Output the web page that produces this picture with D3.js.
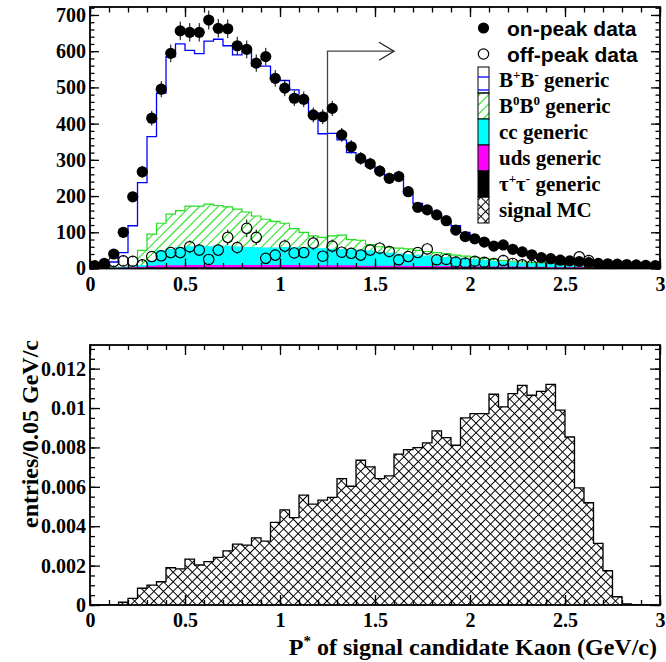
<!DOCTYPE html>
<html><head><meta charset="utf-8">
<script src="https://cdn.jsdelivr.net/npm/d3@7"></script>
<style>
html,body{margin:0;padding:0;background:#fff;}
svg{display:block;}
.lab text{font-family:"Liberation Serif","Times New Roman",serif;font-weight:bold;font-size:20px;fill:#000;}
</style></head><body>
<svg id="c" width="666" height="662"></svg>
<script>
// ---------------- data ----------------
const binWidth = 0.05;
const nBins = 60;
const xTickValues = [0, 0.5, 1, 1.5, 2, 2.5, 3];
const xTickLabels = ["0", "0.5", "1", "1.5", "2", "2.5", "3"];
const yTopTickValues = [0, 100, 200, 300, 400, 500, 600, 700];
const yTopTickLabels = ["0", "100", "200", "300", "400", "500", "600", "700"];
const yBotTickValues = [0, 0.002, 0.004, 0.006, 0.008, 0.010, 0.012];
const yBotTickLabels = ["0", "0.002", "0.004", "0.006", "0.008", "0.01", "0.012"];

const onPeak = [8,14,40,100,198,267,415,495,594,656, 652,652,686,663,662,615,605,567,585,525,
  498,470,467,424,419,442,369,336,304,289, 269,249,254,212,169,162,148,132,106,88,
  82,73,62,65,53,46,38,30,27,23, 21,19,16,14,13,12,11,10,9,8];
const offPeak = [4,8,19,21,20,10,33,35,44,44, 60,51,25,51,86,58,111,86,28,37,
  62,43,44,70,34,62,45,42,37,51, 56,47,24,33,44,54,24,25,18,15,
  20,17,14,22,14,10,8,8,6,6, 8,32,22,5,4,3,3,2,2,2];

// MC components (stack order bottom -> top: tau, uds, cc, B0B0, B+B-)
const tauGeneric = [0,0,0,0,0,0,1,1,1,1, 1,1,1,1,1,1,1,1,1,1, 1,1,1,1,1,1,1,1,1,1,
  1,1,1,1,1,1,1,1,1,1, 1,1,1,1,1,1,1,1,0,0, 0,0,0,0,0,0,0,0,0,0];
const udsGeneric = [0,0,0,1,2,3,5,6,6,6, 7,7,7,7,7,7,7,7,7,7, 7,7,6,6,6,6,6,6,5,5,
  5,5,5,5,4,4,4,4,4,3, 3,3,3,3,3,3,2,2,2,2, 2,2,2,2,2,1,1,1,1,1];
const ccGeneric = [0,0,1,2,4,5,14,42,45,51, 52,54,52,54,53,51,50,49,48,48,
  50,49,49,48,47,46,45,44,44,42, 38,36,34,32,31,29,27,25,23,22,
  20,18,16,14,12,10,10,9,9,8, 7,6,5,4,4,4,3,3,2,2];
const b0b0Generic = [0,0,0,0,0,42,75,76,98,102, 112,110,118,112,109,105,98,88,80,74,
  67,53,44,35,32,37,40,29,28,18, 16,16,16,16,14,13,12,11,9,8,
  7,6,5,4,4,4,3,2,2,2, 2,2,2,2,1,1,1,1,1,1];
const bpbmGeneric = [2,6,17,41,112,187,269,359,435,460, 430,421,450,459,445,426,443,414,423,392,
  394,383,361,340,286,283,263,240,222,216, 208,192,192,155,130,115,104,89,81,66,
  54,47,40,35,30,25,20,16,13,10, 8,6,5,4,3,3,3,2,2,1];

const signalMC = [0,0,0,0.00014,0.00034,0.00085,0.00101,0.00118,0.00189,0.00183,
  0.00233,0.00203,0.00220,0.00242,0.00275,0.00309,0.00304,0.00341,0.00324,0.00419,
  0.00483,0.00444,0.00558,0.00512,0.00532,0.00546,0.00642,0.00603,0.00735,0.00701,
  0.00642,0.00656,0.00766,0.00789,0.00799,0.00823,0.00884,0.00850,0.00811,0.00950,
  0.00972,0.00972,0.01070,0.01006,0.01073,0.01115,0.01065,0.01085,0.01120,0.00989,
  0.00853,0.00595,0.00519,0.00313,0.00174,0.00042,0.00006,0.00002,0,0];

const cutValue = 1.25, arrowHeight = 600, arrowEnd = 1.6;

const stackKeys = ["tau", "uds", "cc", "b0b0", "bpbm"];
const stackColors = {tau: "#000000", uds: "#ff00ff", cc: "#00ffff", b0b0: "url(#hatchGreen)", bpbm: "#ffffff"};
const stackLines = {tau: "#000000", uds: "#ff00ff", cc: "#00ffff", b0b0: "#22dd22", bpbm: "#0000ff"};

// ---------------- setup ----------------
const svg = d3.select("#c");
const defs = svg.append("defs");
const hg = defs.append("pattern").attr("id", "hatchGreen").attr("patternUnits", "userSpaceOnUse")
  .attr("width", 6.6).attr("height", 6.6).attr("patternTransform", "rotate(45)");
hg.append("line").attr("x1", 3.3).attr("y1", -1).attr("x2", 3.3).attr("y2", 8).attr("stroke", "#22dd22").attr("stroke-width", 1.1);
const cr = defs.append("pattern").attr("id", "cross").attr("patternUnits", "userSpaceOnUse")
  .attr("width", 6.8).attr("height", 6.8).attr("patternTransform", "rotate(45)");
cr.append("line").attr("x1", 3.4).attr("y1", -1).attr("x2", 3.4).attr("y2", 8).attr("stroke", "#000").attr("stroke-width", 1);
cr.append("line").attr("x1", -1).attr("y1", 3.4).attr("x2", 8).attr("y2", 3.4).attr("stroke", "#000").attr("stroke-width", 1);

const L = 90, R = 660;
const x = d3.scaleLinear().domain([0, 3]).range([L, R]);
const yTop = d3.scaleLinear().domain([0, 722]).range([268.5, 7]);
const yBot = d3.scaleLinear().domain([0, 0.0132]).range([605, 345]);

defs.append("clipPath").attr("id", "clipTop").append("rect")
  .attr("x", L).attr("y", yTop.range()[1]).attr("width", R - L).attr("height", yTop.range()[0] - yTop.range()[1]);
defs.append("clipPath").attr("id", "clipBot").append("rect")
  .attr("x", L).attr("y", yBot.range()[1]).attr("width", R - L).attr("height", yBot.range()[0] - yBot.range()[1]);

function stepPts(vals) {
  const pts = [];
  vals.forEach((v, i) => { pts.push([i * binWidth, v]); pts.push([(i + 1) * binWidth, v]); });
  return pts;
}
function drawHist(g, vals, y, fill, stroke, sw) {
  const pts = stepPts(vals);
  g.append("path").attr("d", d3.area().x(d => x(d[0])).y0(y(0)).y1(d => y(d[1]))(pts))
    .attr("fill", fill).attr("stroke", "none");
  const lp = [[0, 0]].concat(pts, [[nBins * binWidth, 0]]);
  g.append("path").attr("d", d3.line().x(d => x(d[0])).y(d => y(d[1]))(lp))
    .attr("fill", "none").attr("stroke", stroke).attr("stroke-width", sw);
}

function drawAxes(yScale, yMajor, yLabels, yMinorStep, xLen, yLen) {
  const top = yScale.range()[1], bot = yScale.range()[0];
  const xMinor = d3.range(0, 3.0001, 0.1);
  const yMinor = d3.range(0, yScale.domain()[1] + 1e-9, yMinorStep);
  const fmtX = d => xTickLabels[xTickValues.indexOf(d)];
  const fmtY = d => yLabels[yMajor.indexOf(d)];
  const add = (axis, tx, ty, cls) => {
    const g = svg.append("g").attr("class", cls || "").attr("transform", `translate(${tx},${ty})`).call(axis);
    g.select(".domain").remove();
    g.selectAll(".tick line").attr("stroke", "#000").attr("stroke-width", 1.3);
    return g;
  };
  // bottom
  add(d3.axisBottom(x).tickValues(xMinor).tickSize(-xLen[1]).tickFormat(""), 0, bot);
  add(d3.axisBottom(x).tickValues(xTickValues).tickSize(-xLen[0]).tickPadding(8).tickFormat(fmtX), 0, bot, "lab");
  // top
  add(d3.axisTop(x).tickValues(xMinor).tickSize(-xLen[1]).tickFormat(""), 0, top);
  add(d3.axisTop(x).tickValues(xTickValues).tickSize(-xLen[0]).tickFormat(""), 0, top);
  // left
  add(d3.axisLeft(yScale).tickValues(yMinor).tickSize(-yLen[1]).tickFormat(""), L, 0);
  add(d3.axisLeft(yScale).tickValues(yMajor).tickSize(-yLen[0]).tickPadding(4).tickFormat(fmtY), L, 0, "lab");
  // right
  add(d3.axisRight(yScale).tickValues(yMinor).tickSize(-yLen[1]).tickFormat(""), R, 0);
  add(d3.axisRight(yScale).tickValues(yMajor).tickSize(-yLen[0]).tickFormat(""), R, 0);
  svg.append("rect").attr("x", L).attr("y", top).attr("width", R - L).attr("height", bot - top)
    .attr("fill", "none").attr("stroke", "#000").attr("stroke-width", 1.8);
}

// ---------------- top panel ----------------
const table = d3.range(nBins).map(i => ({tau: tauGeneric[i], uds: udsGeneric[i], cc: ccGeneric[i], b0b0: b0b0Generic[i], bpbm: bpbmGeneric[i]}));
const series = d3.stack().keys(stackKeys)(table);
const gTop = svg.append("g").attr("clip-path", "url(#clipTop)");
series.slice().reverse().forEach(s => {
  drawHist(gTop, s.map(d => d[1]), yTop, stackColors[s.key], stackLines[s.key], s.key === "bpbm" ? 1.3 : 1.2);
});

// cut arrow
const ax0 = x(cutValue), ay = yTop(arrowHeight), ax1 = x(arrowEnd);
gTop.append("path").attr("d", d3.line()([[ax0, yTop(0)], [ax0, ay], [ax1, ay]]))
  .attr("fill", "none").attr("stroke", "#444").attr("stroke-width", 1.3);
gTop.append("path").attr("d", d3.line()([[ax1 - 15, ay - 9], [ax1, ay], [ax1 - 15, ay + 9]]))
  .attr("fill", "none").attr("stroke", "#222").attr("stroke-width", 1.3);

// off-peak points
const rOff = 5.2, rOn = 5.6;
offPeak.forEach((v, i) => {
  const cx = x((i + 0.5) * binWidth), cy = yTop(v);
  const e = Math.sqrt(v) * 2.3;
  gTop.append("line").attr("x1", cx).attr("x2", cx).attr("y1", yTop(v + e)).attr("y2", cy - rOff).attr("stroke", "#000").attr("stroke-width", 1);
  gTop.append("line").attr("x1", cx).attr("x2", cx).attr("y1", cy + rOff).attr("y2", yTop(Math.max(0, v - e))).attr("stroke", "#000").attr("stroke-width", 1);
  gTop.append("circle").attr("cx", cx).attr("cy", cy).attr("r", rOff).attr("fill", "none").attr("stroke", "#000").attr("stroke-width", 1.2);
});
onPeak.forEach((v, i) => {
  const cx = x((i + 0.5) * binWidth), cy = yTop(v);
  const e = Math.sqrt(v) * 1.0;
  gTop.append("line").attr("x1", cx).attr("x2", cx).attr("y1", yTop(v + e)).attr("y2", yTop(Math.max(0, v - e))).attr("stroke", "#000").attr("stroke-width", 1);
  gTop.append("circle").attr("cx", cx).attr("cy", cy).attr("r", rOn).attr("fill", "#000");
});

drawAxes(yTop, yTopTickValues, yTopTickLabels, 20, [10, 5.5], [9, 4.5]);

// legend
const legend = [
  {type: "on", label: "on-peak data"},
  {type: "off", label: "off-peak data"},
  {type: "bpbm", html: [["B", 0], ["+", 1], ["B", 0], ["-", 1], [" generic", 0]]},
  {type: "b0b0", html: [["B", 0], ["0", 1], ["B", 0], ["0", 1], [" generic", 0]]},
  {type: "cc", html: [["cc generic", 0]]},
  {type: "uds", html: [["uds generic", 0]]},
  {type: "tau", html: [["τ", 0], ["+", 1], ["τ", 0], ["-", 1], [" generic", 0]]},
  {type: "sig", html: [["signal MC", 0]]}
];
const legY0 = 28, legDy = 26, boxX = 478, boxW = 11, mX = 483.5;
const lg = svg.append("g");
legend.forEach((d, k) => {
  const cy = legY0 + k * legDy;
  if (d.type === "on") {
    lg.append("circle").attr("cx", mX).attr("cy", cy).attr("r", rOn).attr("fill", "#000");
  } else if (d.type === "off") {
    lg.append("circle").attr("cx", mX).attr("cy", cy).attr("r", rOff).attr("fill", "#fff").attr("stroke", "#000").attr("stroke-width", 1.2);
  } else {
    const fill = d.type === "sig" ? "url(#cross)" : (stackColors[d.type]);
    lg.append("rect").attr("x", boxX).attr("y", cy - 13).attr("width", boxW).attr("height", 26)
      .attr("fill", fill).attr("stroke", "#000").attr("stroke-width", 1);
    if (d.type === "bpbm") {
      lg.append("line").attr("x1", boxX).attr("x2", boxX + boxW).attr("y1", cy - 3).attr("y2", cy - 3).attr("stroke", "#0000ff").attr("stroke-width", 1.3);
      lg.append("line").attr("x1", boxX).attr("x2", boxX + boxW).attr("y1", cy + 10).attr("y2", cy + 10).attr("stroke", "#0000ff").attr("stroke-width", 1.3);
    }
  }
  if (d.label) {
    lg.append("text").attr("x", 507).attr("y", cy).attr("dy", "0.36em")
      .attr("font-family", "'Liberation Sans', Arial, sans-serif").attr("font-weight", "bold").attr("font-size", 21)
      .text(d.label);
  } else {
    const t = lg.append("text").attr("x", 499).attr("y", cy).attr("dy", "0.34em")
      .attr("font-family", "'Liberation Serif', 'Times New Roman', serif").attr("font-weight", "bold").attr("font-size", 21);
    let sup = 0;
    d.html.forEach(([s, isSup]) => {
      const ts = t.append("tspan").text(s);
      if (isSup && !sup) { ts.attr("dy", -8).attr("font-size", 13); sup = 1; }
      else if (!isSup && sup) { ts.attr("dy", 8); sup = 0; }
      else if (isSup) { ts.attr("font-size", 13); }
    });
  }
});

// ---------------- bottom panel ----------------
const gBot = svg.append("g").attr("clip-path", "url(#clipBot)");
drawHist(gBot, signalMC, yBot, "url(#cross)", "#000", 1.3);
drawAxes(yBot, yBotTickValues, yBotTickLabels, 0.0005, [10, 5], [10, 5]);

// axis titles
const tf = "'Liberation Serif', 'Times New Roman', serif";
const xt = svg.append("text").attr("x", 657).attr("y", 655).attr("text-anchor", "end")
  .attr("font-family", tf).attr("font-weight", "bold").attr("font-size", 24);
xt.append("tspan").text("P");
xt.append("tspan").attr("dy", -9).attr("font-size", 15).text("*");
xt.append("tspan").attr("dy", 9).text(" of signal candidate Kaon (GeV/c)");
svg.append("text").attr("transform", "translate(38,340) rotate(-90)").attr("text-anchor", "end")
  .attr("font-family", tf).attr("font-weight", "bold").attr("font-size", 24)
  .text("entries/0.05 GeV/c");
</script>
</body></html>
